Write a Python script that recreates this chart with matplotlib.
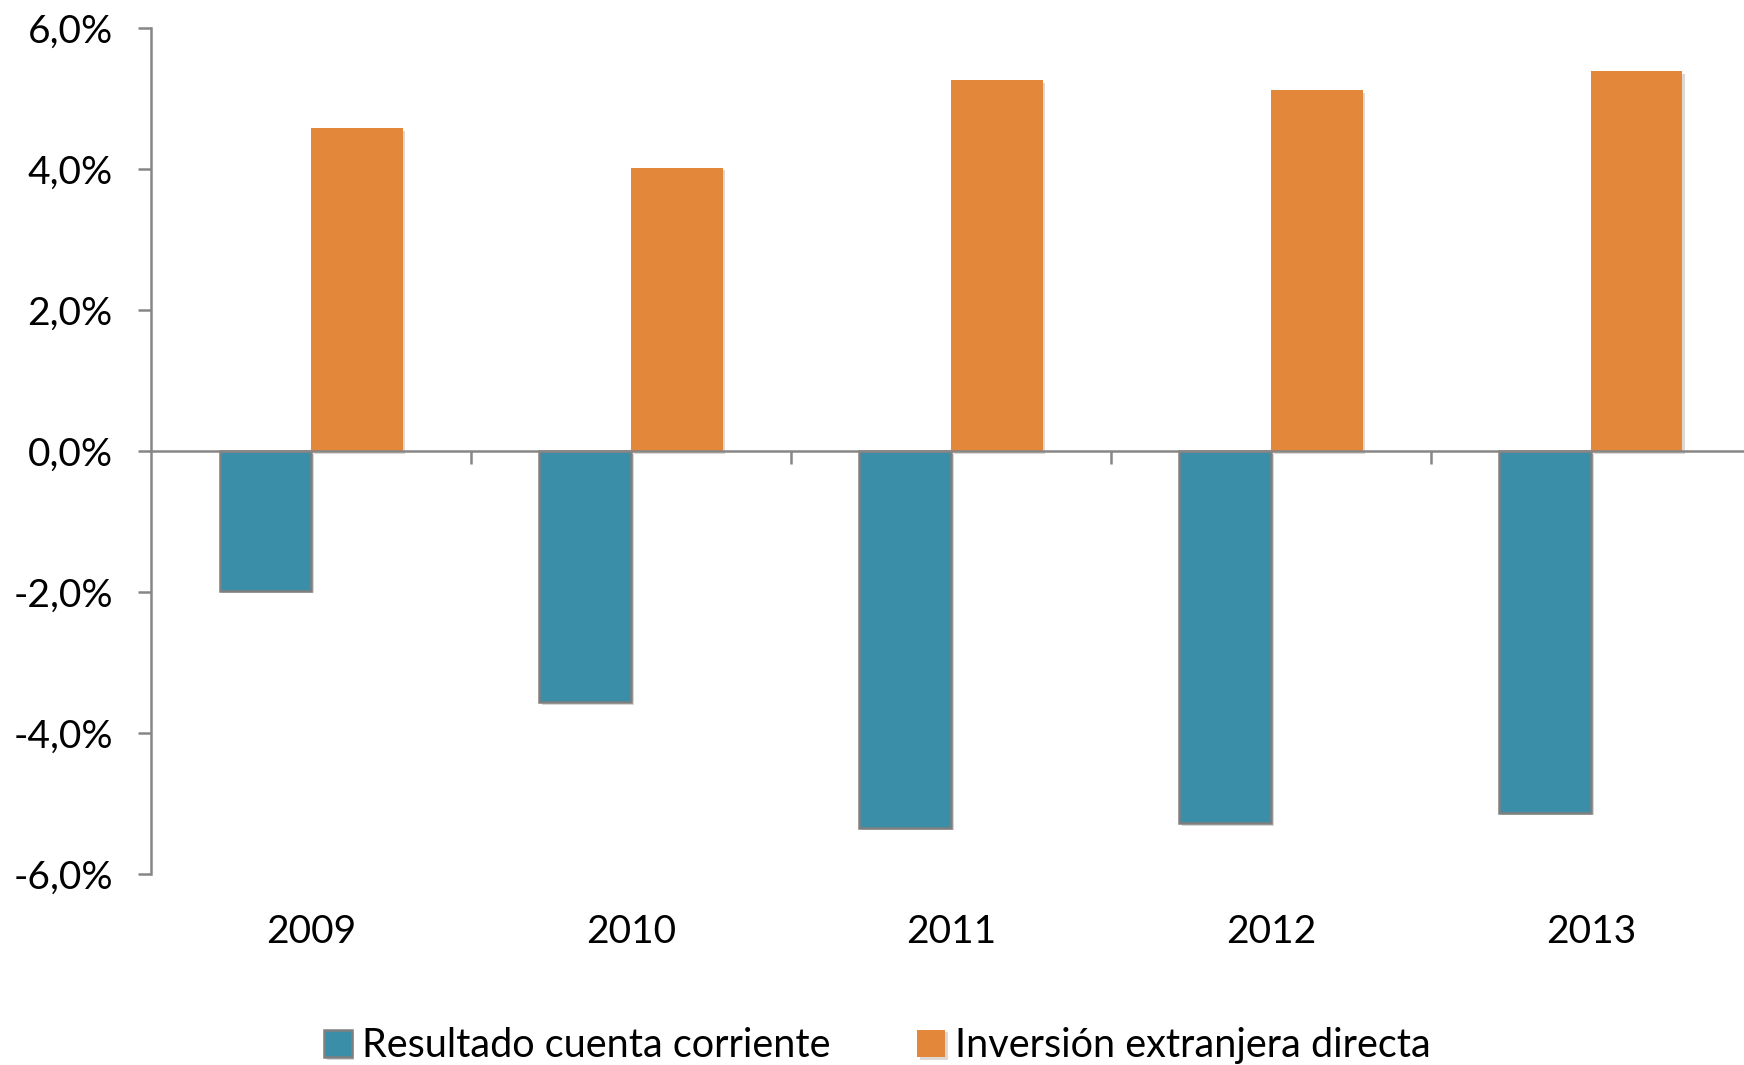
import matplotlib
matplotlib.use("Agg")
import matplotlib.pyplot as plt
import matplotlib.patheffects as pe
from matplotlib.ticker import FuncFormatter, FixedLocator
import numpy as np

years = ["2009", "2010", "2011", "2012", "2013"]
cuenta_corriente = [-1.98, -3.56, -5.34, -5.28, -5.13]
inversion_extranjera = [4.58, 4.02, 5.26, 5.12, 5.39]
series_names = ["Resultado cuenta corriente", "Inversión extranjera directa"]
yticks = [-6, -4, -2, 0, 2, 4, 6]

plt.rcParams['font.family'] = ['Lato', 'DejaVu Sans']

teal = "#3A8EA8"
orange = "#E3883B"
gray = "#868686"

fig = plt.figure(figsize=(17.44, 10.65), dpi=100)
ax = fig.add_axes([0.0866, 0.1793, 0.9174, 0.7944])

x = np.arange(len(years))
w = 0.286
shadow = [pe.SimplePatchShadow(offset=(2, -2), alpha=0.18), pe.Normal()]
b1 = ax.bar(x - w / 2, cuenta_corriente, w, color=teal, edgecolor="#7F7F7F",
            linewidth=1.8, label=series_names[0], zorder=3)
b2 = ax.bar(x + w / 2, inversion_extranjera, w, color=orange, linewidth=0,
            label=series_names[1], zorder=3)
for p in list(b1) + list(b2):
    p.set_path_effects(shadow)

ax.set_xlim(-0.5, len(years) - 0.5)
ax.set_ylim(-6, 6)

for s in ["top", "right"]:
    ax.spines[s].set_visible(False)
ax.spines["left"].set_color(gray)
ax.spines["left"].set_linewidth(1.8)
ax.spines["bottom"].set_position(("data", 0))
ax.spines["bottom"].set_color(gray)
ax.spines["bottom"].set_linewidth(1.8)
ax.spines["bottom"].set_zorder(4)

ax.yaxis.set_major_locator(FixedLocator(yticks))
ax.yaxis.set_major_formatter(FuncFormatter(lambda v, p: f"{v:.1f}%".replace(".", ",")))
ax.tick_params(axis="y", direction="out", length=9.5, width=1.8, color=gray,
               labelsize=28, pad=18, labelcolor="black")

ax.xaxis.set_major_locator(FixedLocator(list(np.arange(0.5, len(years) - 0.5, 1.0))))
ax.xaxis.set_major_formatter(FuncFormatter(lambda v, p: ""))
ax.tick_params(axis="x", direction="out", length=9, width=1.8, color=gray)

for i, yr in enumerate(years):
    ax.text(i, -0.068, yr, transform=ax.get_xaxis_transform(), ha="center",
            va="center", fontsize=28, color="black")

leg = fig.legend(handles=[b1, b2], labels=series_names, loc="center",
                 bbox_to_anchor=(0.503, 0.018), ncol=2, frameon=False,
                 fontsize=28.5, handlelength=0.7, handleheight=0.7,
                 handletextpad=0.25, columnspacing=2.2)

fig.savefig("out.png", dpi=100)
